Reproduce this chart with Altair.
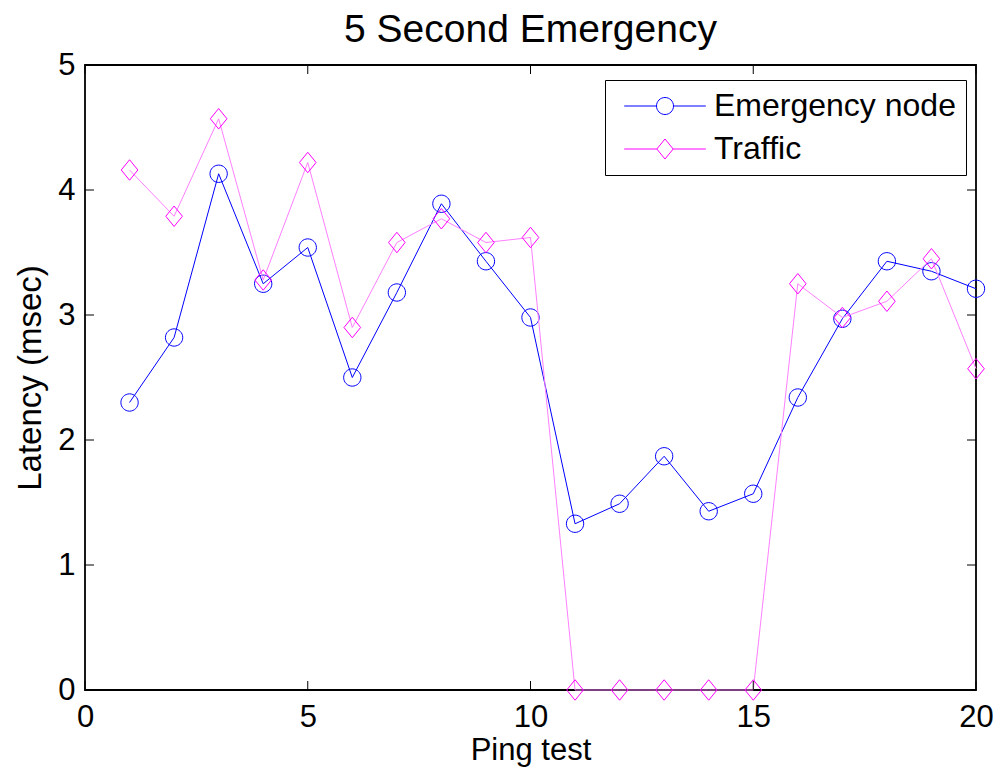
import altair as alt
import pandas as pd

# ---- data ----
ping = [1, 2, 3, 4, 5, 6, 7, 8, 9, 10, 11, 12, 13, 14, 15, 16, 17, 18, 19, 20]
emergency = [2.30, 2.82, 4.13, 3.25, 3.54, 2.50, 3.18, 3.89, 3.43, 2.98,
             1.33, 1.49, 1.87, 1.43, 1.57, 2.34, 2.97, 3.43, 3.35, 3.21]
traffic = [4.16, 3.79, 4.57, 3.28, 4.22, 2.90, 3.58, 3.77, 3.58, 3.62,
           0.0, 0.0, 0.0, 0.0, 0.0, 3.25, 2.98, 3.11, 3.45, 2.57]
series_names = ["Emergency node", "Traffic"]
x_ticks = [0, 5, 10, 15, 20]
y_ticks = [0, 1, 2, 3, 4, 5]

W, H = 891, 625
FONT = "Liberation Sans"

df = pd.DataFrame({
    "x": ping + ping,
    "value": emergency + traffic,
    "series": [series_names[0]] * len(ping) + [series_names[1]] * len(ping),
})

circle = "M-1,0A1,1,0,1,1,1,0A1,1,0,1,1,-1,0Z"
diamond = "M0,-1.18L0.96,0L0,1.18L-0.96,0Z"
leg_circle = "M-4.8,0L-1,0M1,0L4.8,0" + circle
leg_diamond = "M-4.8,0L-0.96,0M0.96,0L4.8,0" + diamond

xscale = alt.Scale(domain=[0, 20], nice=False, zero=False)
yscale = alt.Scale(domain=[0, 5], nice=False, zero=False)

xaxis = alt.Axis(values=x_ticks, ticks=False, domain=False, grid=False,
                 labelFontSize=31, labelFont=FONT, labelColor="black",
                 labelPadding=12, title="Ping test", titleFont=FONT,
                 titleFontSize=31, titleFontWeight="normal", titleColor="black",
                 titlePadding=3, labelFlush=False)
yaxis = alt.Axis(values=y_ticks, ticks=False, domain=False, grid=False,
                 labelFontSize=31, labelFont=FONT, labelColor="black",
                 labelPadding=10, title="Latency (msec)", titleFont=FONT,
                 titleFontSize=33, titleFontWeight="normal", titleColor="black",
                 titlePadding=10, labelFlush=False)


def X(field):
    return alt.X(field, scale=xscale, axis=xaxis)


def Y(field):
    return alt.Y(field, scale=yscale, axis=yaxis)


base = alt.Chart(df)
emer = base.transform_filter(alt.datum.series == series_names[0])
traf = base.transform_filter(alt.datum.series == series_names[1])

line_e = emer.mark_line(color="#0000FF", strokeWidth=1).encode(x=X("x:Q"), y=Y("value:Q"))
pts_e = emer.mark_point(shape=circle, color="#0000FF", filled=False,
                        strokeWidth=1, size=300, opacity=1).encode(x=X("x:Q"), y=Y("value:Q"))
line_t = traf.mark_line(color="#FF7FFF", strokeWidth=1).encode(x=X("x:Q"), y=Y("value:Q"))
pts_t = traf.mark_point(shape=diamond, color="#FF00FF", filled=False,
                        strokeWidth=1, size=300, opacity=1).encode(x=X("x:Q"), y=Y("value:Q"))

# legend-only layer (no marks drawn, entries come from the explicit scale domains)
legend_layer = base.transform_filter("false").mark_point(filled=False, strokeWidth=1).encode(
    x=X("x:Q"), y=Y("value:Q"),
    color=alt.Color("series:N", scale=alt.Scale(domain=series_names, range=["#0000FF", "#FF00FF"]),
                    legend=alt.Legend(
                        title=None, orient="none", legendX=520, legendY=15,
                        strokeColor="black", fillColor="white", padding=10,
                        labelFont=FONT, labelFontSize=32, labelColor="black",
                        symbolSize=289, symbolStrokeWidth=1, symbolOffset=34,
                        labelOffset=33, rowPadding=11, labelLimit=400,
                        symbolFillColor="transparent", symbolOpacity=1,
                    )),
    shape=alt.Shape("series:N", scale=alt.Scale(domain=series_names, range=[leg_circle, leg_diamond])),
)

xt = pd.DataFrame({"t": x_ticks})
yt = pd.DataFrame({"t": y_ticks})
tick_bottom = alt.Chart(xt).mark_rule(color="black", strokeWidth=1).encode(
    x=X("t:Q"), y=alt.value(H), y2=alt.value(H - 9))
tick_top = alt.Chart(xt).mark_rule(color="black", strokeWidth=1).encode(
    x=X("t:Q"), y=alt.value(0), y2=alt.value(9))
tick_left = alt.Chart(yt).mark_rule(color="black", strokeWidth=1).encode(
    y=Y("t:Q"), x=alt.value(0), x2=alt.value(9))
tick_right = alt.Chart(yt).mark_rule(color="black", strokeWidth=1).encode(
    y=Y("t:Q"), x=alt.value(W), x2=alt.value(W - 9))

chart = alt.layer(
    line_e, pts_e, line_t, pts_t, legend_layer,
    tick_bottom, tick_top, tick_left, tick_right
).properties(
    width=W, height=H,
    title=alt.TitleParams("5 Second Emergency", font=FONT, fontSize=39,
                          fontWeight="normal", color="black", offset=-1, anchor="middle"),
    autosize=alt.AutoSizeParams(type="none"),
    padding={"left": 77, "top": 57, "right": 19, "bottom": 78},
).configure(
    background="white"
).configure_view(
    stroke="black", strokeWidth=1.8
)

chart.save("out.html", embed_options={"renderer": "svg", "actions": False})
